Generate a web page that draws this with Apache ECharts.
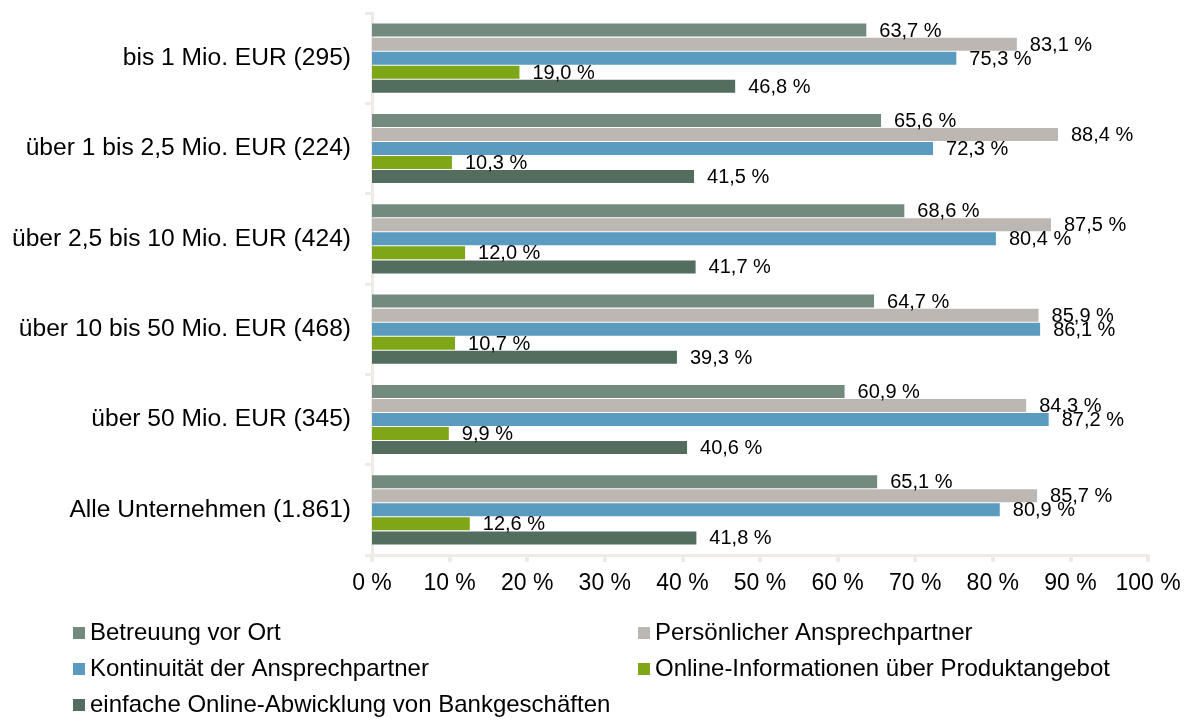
<!DOCTYPE html>
<html>
<head>
<meta charset="utf-8">
<script src="https://cdn.jsdelivr.net/npm/echarts@6/dist/echarts.min.js"></script>
<style>
  html, body { margin: 0; padding: 0; background: #ffffff; }
  #chart { width: 1189px; height: 726px; }
</style>
</head>
<body>
<div id="chart"></div>
<script>
// Company size classes (number of respondents in brackets)
const categories = [
  'bis 1 Mio. EUR (295)',
  'über 1 bis 2,5 Mio. EUR (224)',
  'über 2,5 bis 10 Mio. EUR (424)',
  'über 10 bis 50 Mio. EUR (468)',
  'über 50 Mio. EUR (345)',
  'Alle Unternehmen (1.861)'
];

// Share of respondents (%) per criterion
const betreuungVorOrt      = [63.7, 65.6, 68.6, 64.7, 60.9, 65.1];
const persoenlicherAP      = [83.1, 88.4, 87.5, 85.9, 84.3, 85.7];
const kontinuitaetAP       = [75.3, 72.3, 80.4, 86.1, 87.2, 80.9];
const onlineInformationen  = [19.0, 10.3, 12.0, 10.7, 9.9, 12.6];
const onlineAbwicklung     = [46.8, 41.5, 41.7, 39.3, 40.6, 41.8];

const seriesNames = [
  'Betreuung vor Ort',
  'Persönlicher Ansprechpartner',
  'Kontinuität der Ansprechpartner',
  'Online-Informationen über Produktangebot',
  'einfache Online-Abwicklung von Bankgeschäften'
];
const seriesData = [betreuungVorOrt, persoenlicherAP, kontinuitaetAP, onlineInformationen, onlineAbwicklung];
const colors = ['#738b7f', '#bcb7b3', '#5a9bbf', '#7ea617', '#536d5f'];

const FONT = "'Liberation Sans', Arial, Helvetica, sans-serif";
const AXIS_COLOR = '#eeeae6';

const fmtPct = v => v.toFixed(1).replace('.', ',') + ' %';

// Two legend columns; left column holds items 1, 3, 5
const legendColumn = (left, names) => ({
  orient: 'vertical',
  left: left,
  top: 621,
  padding: 0,
  itemWidth: 12,
  itemHeight: 12,
  itemGap: 12,
  icon: 'rect',
  textStyle: { fontSize: 24, lineHeight: 24, fontFamily: FONT, color: '#000' },
  data: names
});

const chart = echarts.init(document.getElementById('chart'), null, { renderer: 'canvas' });

chart.setOption({
  animation: false,
  backgroundColor: '#ffffff',
  textStyle: { fontFamily: FONT, color: '#000' },
  grid: { left: 372, right: 41, top: 13, bottom: 171, containLabel: false },
  xAxis: {
    type: 'value',
    min: 0,
    max: 100,
    interval: 10,
    axisLine: { show: true, lineStyle: { color: AXIS_COLOR, width: 3 } },
    axisTick: { show: true, length: 7, lineStyle: { color: AXIS_COLOR, width: 4 } },
    splitLine: { show: false },
    axisLabel: {
      margin: 17,
      fontSize: 23,
      fontFamily: FONT,
      color: '#000',
      formatter: '{value} %'
    }
  },
  yAxis: {
    type: 'category',
    inverse: true,
    data: categories,
    axisLine: { show: true, lineStyle: { color: AXIS_COLOR, width: 3 } },
    axisTick: { show: true, length: 7, lineStyle: { color: AXIS_COLOR, width: 3 } },
    axisLabel: {
      margin: 21,
      fontSize: 24.6,
      fontFamily: FONT,
      color: '#000'
    }
  },
  legend: [
    legendColumn(73, [seriesNames[0], seriesNames[2], seriesNames[4]]),
    legendColumn(638, [seriesNames[1], seriesNames[3]])
  ],
  series: seriesNames.map((name, i) => ({
    name: name,
    type: 'bar',
    data: seriesData[i],
    barWidth: 13,
    barGap: '8%',
    itemStyle: { color: colors[i] },
    label: {
      show: true,
      position: 'right',
      distance: 13,
      offset: [0, 1],
      fontSize: 20,
      fontFamily: FONT,
      color: '#000',
      formatter: p => fmtPct(p.value)
    }
  }))
});
</script>
</body>
</html>
